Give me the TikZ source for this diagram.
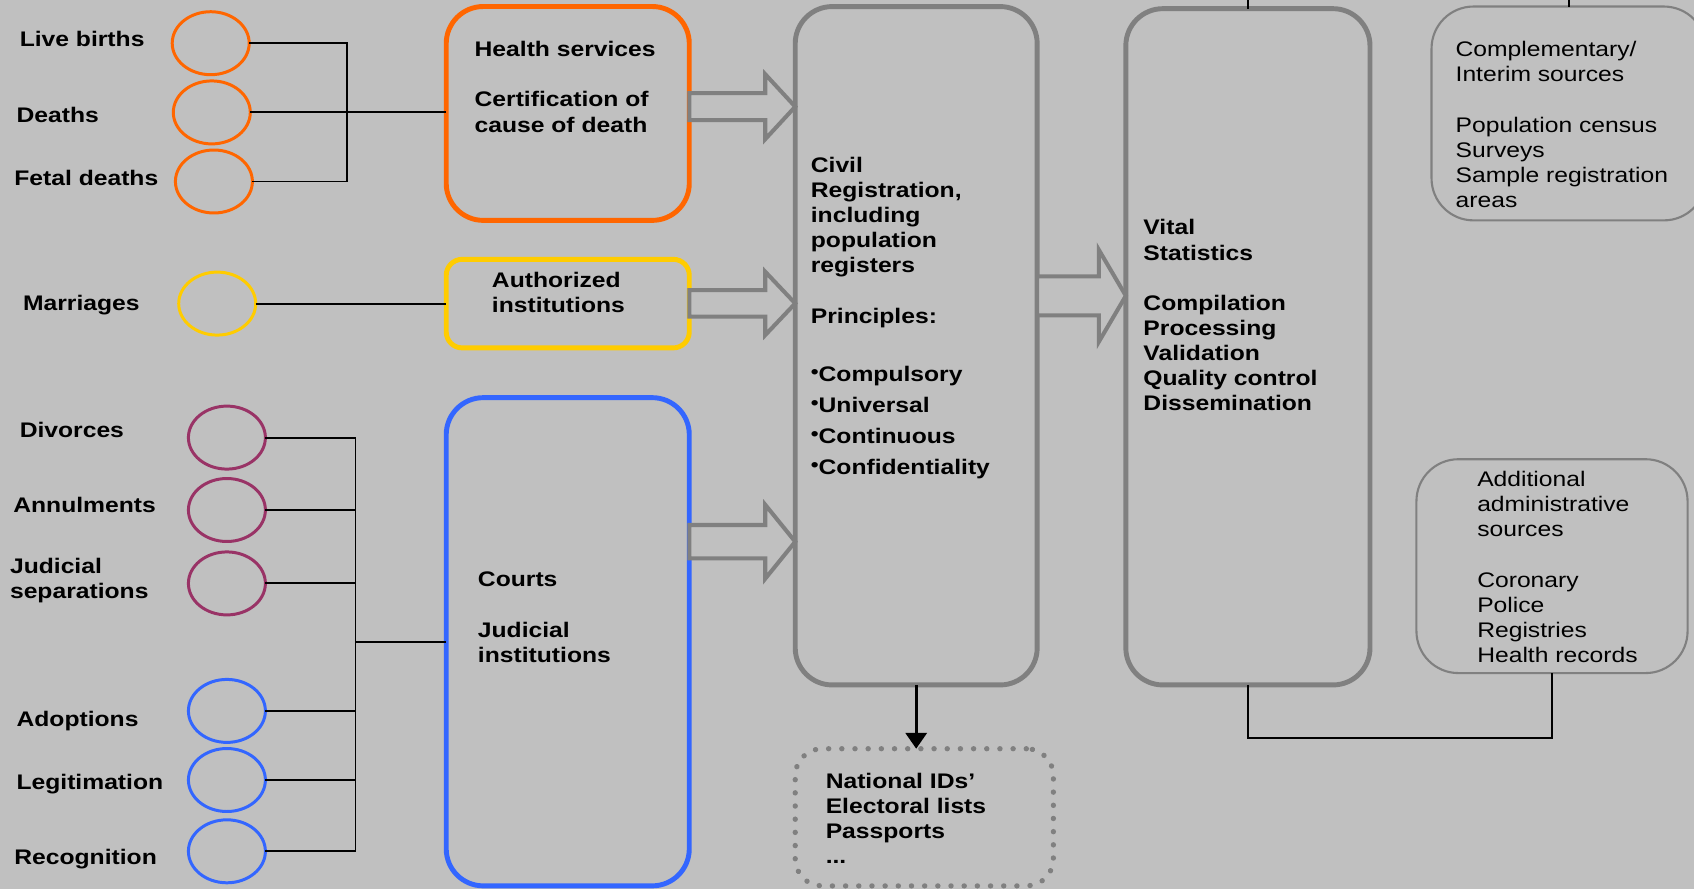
\documentclass[tikz,border=0pt]{standalone}
\usepackage{fontspec}
\setmainfont{Liberation Sans}[FakeStretch=1.17]
\usepackage{graphicx}
\usetikzlibrary{shapes.geometric,arrows.meta,calc}

\definecolor{bggray}{RGB}{192,192,192}
\definecolor{framegray}{RGB}{128,128,128}
\definecolor{hsorange}{RGB}{255,102,0}
\definecolor{aiyellow}{RGB}{255,204,0}
\definecolor{ctmaroon}{RGB}{153,51,102}
\definecolor{ctblue}{RGB}{51,102,255}

\newcommand{\pbul}{\raisebox{0.3ex}{\scalebox{0.9}{\textbullet}}}

\tikzset{
  event/.style={ellipse, draw=#1, line width=1.7pt, minimum width=1.54cm, minimum height=1.26cm, inner sep=0pt, outer sep=0pt},
  agency/.style={rectangle, draw=#1, line width=2.8pt, rounded corners=0.74cm, inner sep=0pt, outer sep=0pt},
  source/.style={rectangle, draw=framegray, line width=1.2pt, rounded corners=0.84cm, inner sep=0pt, outer sep=0pt},
  txt/.style={inner sep=0pt, align=left, font=\fontsize{12}{14.3}\selectfont\bfseries},
  plaintxt/.style={txt, font=\fontsize{12}{14.3}\selectfont},
  link/.style={draw=black, line width=1.1pt},
  blockarrow/.style={draw=framegray, fill=bggray, line width=2.3pt},
}

\begin{document}
\begin{tikzpicture}[x=0.02cm, y=-0.02cm]
\path[use as bounding box, fill=bggray] (0,0) rectangle (1694,889);

% boxes
\node[agency=hsorange, minimum width=4.862cm, minimum height=4.278cm](health) at (567.75,113.45) {};
\node[agency=aiyellow, rounded corners=0.32cm, minimum width=4.862cm, minimum height=1.772cm](auth) at (567.75,303.6) {};
\node[agency=ctblue, minimum width=4.862cm, minimum height=9.766cm](courts) at (567.75,641.75) {};
\node[agency=framegray, minimum width=4.84cm, minimum height=13.57cm](civil) at (916.2,345.75) {};
\node[agency=framegray, minimum width=4.884cm, minimum height=13.528cm](vital) at (1247.9,346.8) {};
\node[source, minimum width=5.488cm, minimum height=4.278cm](compl) at (1568.7,113.45) {};
\node[source, minimum width=5.424cm, minimum height=4.278cm](addit) at (1552,566.15) {};
\node[source, line width=3pt, line cap=round, dash pattern=on 0.1pt off 7.4pt, rounded corners=0.54cm, minimum width=5.164cm, minimum height=2.744cm](natids) at (924.3,817.3) {};

% events
\node[event=hsorange](lb) at (210.7,43.2) {};
\node[event=hsorange](dth) at (211.8,112.4) {};
\node[event=hsorange](fd) at (213.9,181.5) {};
\node[event=aiyellow](mar) at (217.2,303.6) {};
\node[event=ctmaroon](div) at (226.9,437.6) {};
\node[event=ctmaroon](ann) at (226.9,510) {};
\node[event=ctmaroon](jsep) at (226.9,583.4) {};
\node[event=ctblue](adp) at (226.9,710.9) {};
\node[event=ctblue](leg) at (226.9,780) {};
\node[event=ctblue](rec) at (226.9,851.3) {};

\node[txt, anchor=base west](lbtxt) at (19.4,46.7) {Live births};
\node[txt, anchor=base west](dthtxt) at (16.2,122.5) {Deaths};
\node[txt, anchor=base west](fdtxt) at (14,185) {Fetal deaths};
\node[txt, anchor=base west](martxt) at (22.7,310.8) {Marriages};
\node[txt, anchor=base west](divtxt) at (19.4,437) {Divorces};
\node[txt, anchor=base west](anntxt) at (13,512.5) {Annulments};
\node[txt, anchor=north west](jseptxt) at (9.7,557.5) {Judicial\\separations};
\node[txt, anchor=base west](adptxt) at (16.2,726.5) {Adoptions};
\node[txt, anchor=base west](legtxt) at (16.2,789) {Legitimation};
\node[txt, anchor=base west](rectxt) at (14,864.8) {Recognition};

% brackets
\coordinate (busA) at (346.8,112.4);
\coordinate (busB) at (355.5,641.8);
\foreach \from in {lb, fd}
    \draw[link] (\from.east) -| (busA);
\draw[link] (dth.east) -- (dth.east -| health.west);
\draw[link] (mar.east) -- (mar.east -| auth.west);
\foreach \from in {div, ann, jsep, adp, leg, rec}
    \draw[link] (\from.east) -| (busB);
\draw[link] (busB) -- (busB -| courts.west);

% block arrows
\foreach \from/\to/\yy/\sh/\hd/\hl in {health/civil/106.7/13.5/32.5/30, auth/civil/303.4/13.3/31.7/30, courts/civil/541.7/16.7/37/30, civil/vital/295.8/19.5/46/27}{
    \coordinate (lev) at (0,\yy);
    \coordinate (s) at (\from.east |- lev);
    \coordinate (t) at (\to.west |- lev);
    \draw[blockarrow] ($(s)+(0,-\sh)$) -- ($(t)+(-\hl,-\sh)$) -- ($(t)+(-\hl,-\hd)$) -- (t)
        -- ($(t)+(-\hl,\hd)$) -- ($(t)+(-\hl,\sh)$) -- ($(s)+(0,\sh)$) -- cycle;
}

\draw[link, line width=1.7pt, -{Triangle[width=12pt,length=9pt]}] (civil.south) -- (civil.south |- natids.north);

\coordinate (topedge) at (0,0);
\coordinate (lowbus) at (0,737.9);
\draw[link] (vital.north) -- (vital.north |- topedge);
\draw[link] (compl.north) -- (compl.north |- topedge);
\draw[link] (vital.south) -- (vital.south |- lowbus) -| (addit.south);

% texts
\node[txt, anchor=north west](healthtxt) at (474.3,41) {Health services\\[14.3pt]Certification of\\cause of death};
\node[txt, anchor=north west](authtxt) at (491.6,271.7) {Authorized\\institutions};
\node[txt, anchor=north west](courtstxt) at (477.6,571.7) {Courts\\[14.3pt]Judicial\\institutions};
\node[txt, anchor=north west](civiltxt) at (810.5,156.7) {Civil\\Registration,\\including\\population\\registers\\[14.3pt]Principles:\\[19pt]\pbul Compulsory\\[3.4pt]\pbul Universal\\[3.4pt]\pbul Continuous\\[3.4pt]\pbul Confidentiality};
\node[txt, anchor=north west](vitaltxt) at (1143.1,219.3) {Vital\\Statistics\\[14.3pt]Compilation\\Processing\\Validation\\Quality control\\Dissemination};
\node[plaintxt, anchor=north west](compltxt) at (1455.3,41) {Complementary/\\Interim sources\\[14.3pt]Population census\\Surveys\\Sample registration\\areas};
\node[plaintxt, anchor=north west](addittxt) at (1476.9,471) {Additional\\administrative\\sources\\[14.3pt]Coronary\\Police\\Registries\\Health records};
\node[txt, anchor=north west](natidstxt) at (825.4,772.4) {National IDs’\\Electoral lists\\Passports\\...};

\end{tikzpicture}
\end{document}
